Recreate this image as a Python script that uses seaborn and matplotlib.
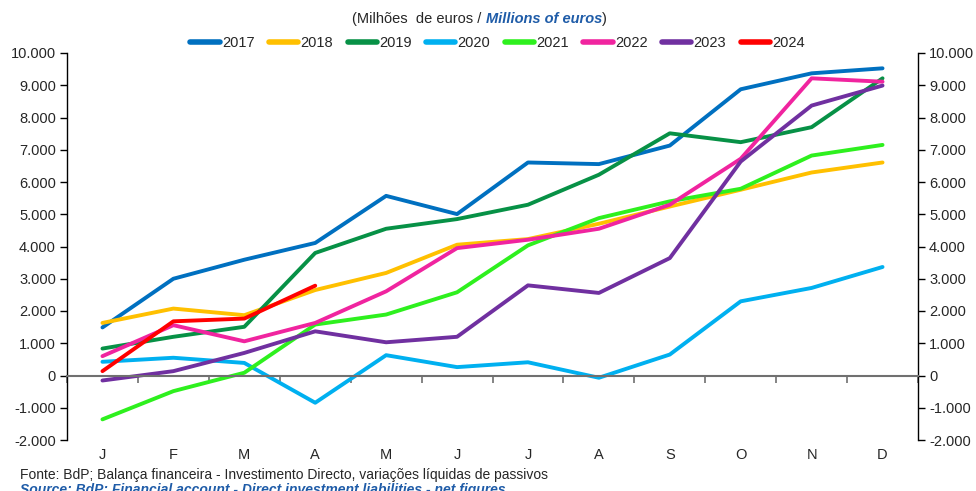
import matplotlib
matplotlib.use("Agg")
import matplotlib.pyplot as plt
import seaborn as sns
import pandas as pd
import numpy as np
from matplotlib.ticker import FuncFormatter, FixedLocator

months = ["J", "F", "M", "A", "M", "J", "J", "A", "S", "O", "N", "D"]
years = ["2017", "2018", "2019", "2020", "2021", "2022", "2023", "2024"]
v2017 = [1490, 3000, 3590, 4110, 5570, 5005, 6605, 6555, 7130, 8875, 9370, 9525]
v2018 = [1630, 2075, 1870, 2650, 3180, 4055, 4230, 4705, 5240, 5760, 6295, 6605]
v2019 = [835, 1200, 1510, 3800, 4550, 4850, 5295, 6225, 7510, 7235, 7700, 9215]
v2020 = [425, 550, 390, -845, 630, 260, 410, -70, 650, 2300, 2715, 3365]
v2021 = [-1360, -485, 85, 1580, 1890, 2580, 4035, 4880, 5400, 5790, 6820, 7150]
v2022 = [600, 1560, 1060, 1630, 2610, 3950, 4210, 4550, 5295, 6720, 9215, 9110]
v2023 = [-155, 135, 700, 1370, 1030, 1200, 2795, 2560, 3640, 6635, 8370, 8990]
v2024 = [135, 1680, 1765, 2785]
series = [v2017, v2018, v2019, v2020, v2021, v2022, v2023, v2024]

colors = ["#0070C0", "#FFC000", "#079146", "#00B0F0", "#2EF01E", "#F0249F", "#7030A0", "#FF0000"]

rows = []
for yr, vals in zip(years, series):
    for i, v in enumerate(vals):
        rows.append({"idx": i, "value": v, "year": yr})
df = pd.DataFrame(rows)

sns.set_style("white")
plt.rcParams["font.family"] = ["Liberation Sans", "DejaVu Sans"]

fig = plt.figure(figsize=(9.76, 4.91), dpi=100)
ax = fig.add_axes([67 / 976, 1 - 440 / 491, (918 - 67) / 976, (440 - 53) / 491])

sns.lineplot(data=df, x="idx", y="value", hue="year", hue_order=years,
             palette=dict(zip(years, colors)), linewidth=2.8, ax=ax, legend=True)

handles, labels = ax.get_legend_handles_labels()
ax.get_legend().remove()
leg = fig.legend(handles, labels, ncol=8, loc="center",
                 bbox_to_anchor=(497.5 / 976, 1 - 43 / 491), frameon=False,
                 fontsize=10.5, handlelength=2.0, handletextpad=0.15, columnspacing=1.0)
for h in leg.get_lines():
    h.set_linewidth(4)

ax.set_xlim(-0.5, 11.5)
ax.set_ylim(-2000, 10000)
ax.set_yticks(range(-2000, 10001, 1000))
ax.yaxis.set_major_formatter(FuncFormatter(lambda v, p: f"{int(v):,}".replace(",", ".")))
ax.tick_params(axis="y", left=True, right=True, labelleft=True, labelright=True,
               direction="out", length=5, width=1, color="black", labelsize=10.5, pad=3)

ax.spines["top"].set_visible(False)
ax.spines["left"].set_color("black")
ax.spines["right"].set_color("black")
ax.spines["left"].set_linewidth(1)
ax.spines["right"].set_linewidth(1)
ax.spines["bottom"].set_position(("data", 0))
ax.spines["bottom"].set_color("#707070")
ax.spines["bottom"].set_linewidth(1.5)

ax.set_xticks(range(12))
ax.set_xticklabels(months)
ax.xaxis.set_minor_locator(FixedLocator(np.arange(-0.5, 12, 1)))
ax.tick_params(axis="x", which="major", bottom=True, length=0, pad=52, labelsize=10.5)
ax.tick_params(axis="x", which="minor", bottom=True, length=5, direction="out",
               color="#707070", width=1.2)
ax.set_xlabel("")
ax.set_ylabel("")
ax.grid(False)

blue = "#1F5CA8"
t1 = fig.text(352 / 976, 1 - 19 / 491, "(Milhões  de euros / ", fontsize=10.5, va="center", ha="left")
t2 = ax.annotate("Millions of euros", xy=(1, 0), xycoords=t1, va="bottom", ha="left",
                 fontsize=10.5, fontweight="bold", style="italic", color=blue, annotation_clip=False)
ax.annotate(")", xy=(1, 0), xycoords=t2, va="bottom", ha="left", fontsize=10.5,
            annotation_clip=False)

fig.text(20 / 976, 1 - 475 / 491,
         "Fonte: BdP; Balança financeira - Investimento Directo, variações líquidas de passivos",
         fontsize=10, va="center", ha="left")
fig.text(20 / 976, 1 - 494 / 491,
         "Source: BdP; Financial account - Direct investment liabilities - net figures",
         fontsize=10, va="baseline", ha="left", fontweight="bold", style="italic", color=blue)

fig.savefig("out.png", dpi=100)
